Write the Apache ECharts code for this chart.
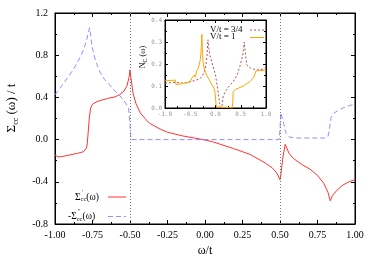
<!DOCTYPE html>
<html><head><meta charset="utf-8">
<script src="https://cdn.jsdelivr.net/npm/echarts@6/dist/echarts.min.js"></script>
<style>html,body{margin:0;padding:0;background:#fff}#c{width:374px;height:262px}</style>
</head><body><div id="c"></div>
<script>
// Main panel: real part Sigma'_cc(omega)
const reOmega = [-1.00,-0.98,-0.97,-0.95,-0.90,-0.85,-0.81,-0.79,-0.785,-0.777,-0.771,-0.762,-0.75,-0.72,-0.70,-0.65,-0.60,-0.57,-0.54,-0.52,-0.505,-0.50,-0.495,-0.48,-0.46,-0.43,-0.40,-0.37,-0.30,-0.25,-0.15,-0.03,0.05,0.19,0.30,0.40,0.45,0.48,0.50,0.505,0.52,0.535,0.545,0.56,0.59,0.65,0.70,0.75,0.79,0.82,0.835,0.85,0.88,0.92,0.96,1.00];
const reValue = [-0.145,-0.165,-0.17,-0.16,-0.145,-0.13,-0.115,-0.08,-0.04,0.10,0.21,0.30,0.335,0.36,0.37,0.39,0.405,0.425,0.46,0.51,0.60,0.66,0.60,0.44,0.34,0.25,0.20,0.155,0.10,0.07,0.035,0.005,-0.02,-0.085,-0.14,-0.22,-0.27,-0.32,-0.38,-0.34,-0.16,-0.045,-0.08,-0.13,-0.18,-0.24,-0.28,-0.34,-0.41,-0.50,-0.58,-0.53,-0.48,-0.43,-0.40,-0.38];
// Main panel: minus imaginary part -Sigma''_cc(omega)
const imOmega = [-1.00,-0.96,-0.92,-0.88,-0.84,-0.81,-0.79,-0.775,-0.77,-0.765,-0.755,-0.74,-0.72,-0.70,-0.67,-0.63,-0.60,-0.57,-0.54,-0.51,-0.50,-0.495,-0.49,0.495,0.50,0.505,0.51,0.525,0.54,0.56,0.60,0.80,0.82,0.83,0.84,0.86,0.88,0.92,0.96,1.00];
const imValue = [0.425,0.50,0.58,0.66,0.76,0.85,0.94,1.03,1.06,1.02,0.90,0.80,0.71,0.64,0.57,0.51,0.46,0.42,0.37,0.30,0.15,0.02,0.0,0.0,0.10,0.255,0.25,0.15,0.06,0.025,0.015,0.015,0.03,0.10,0.21,0.25,0.27,0.30,0.32,0.34];
// Inset: N_C(omega) for V/t = 3/4
const n34Omega = [-1.0,-0.9,-0.77,-0.64,-0.5,-0.4,-0.3,-0.25,-0.2,-0.17,-0.15,-0.13,-0.11,-0.05,0.0,0.04,0.06,0.08,0.09,0.11,0.13,0.15,0.19,0.27,0.35,0.43,0.49,0.54,0.57,0.59,0.62,0.7,0.82,0.9,1.0];
const n34Value = [0.112,0.115,0.117,0.112,0.12,0.125,0.135,0.15,0.18,0.23,0.31,0.27,0.24,0.19,0.15,0.09,0.06,0.025,0.01,0.0,0.01,0.05,0.074,0.10,0.12,0.15,0.195,0.24,0.30,0.25,0.195,0.18,0.173,0.175,0.18];
// Inset: N_C(omega) for V/t = 1
const n1Omega = [-1.0,-0.9,-0.8,-0.78,-0.75,-0.64,-0.5,-0.47,-0.44,-0.42,-0.40,-0.37,-0.34,-0.30,-0.28,-0.27,-0.255,-0.24,-0.2,-0.14,-0.07,-0.03,-0.01,0.0,0.01,0.02,0.05,0.33,0.34,0.35,0.40,0.45,0.55,0.68,0.76,0.80,0.85,0.9,1.0];
const n1Value = [0.123,0.125,0.127,0.106,0.108,0.112,0.118,0.135,0.142,0.15,0.14,0.17,0.18,0.22,0.28,0.335,0.24,0.195,0.16,0.135,0.105,0.09,0.07,0.045,0.02,0.005,0.0,0.0,0.02,0.074,0.085,0.09,0.10,0.12,0.14,0.168,0.17,0.17,0.173];
const vLines = [-0.5, 0.5];
const insetLabels = ['V/t = 3/4', 'V/t = 1'];

const zip = (a, b) => a.map((x, i) => [x, b[i]]);
const SERIF = '"Liberation Serif","DejaVu Serif",serif';
const RED = '#ff3333', BLUE = '#8f8fff', BROWN = '#b5524f', ORANGE = '#ffa500';

const chart = echarts.init(document.getElementById('c'), null, {renderer: 'canvas'});

function frameAxis(extra) {
  return Object.assign({
    type: 'value',
    axisLine: {show: true, onZero: false, lineStyle: {color: '#000', width: 1}},
    axisTick: {show: true, inside: true, length: 4, lineStyle: {color: '#000'}},
    minorTick: {show: true, splitNumber: 2, length: 2, lineStyle: {color: '#000'}},
    splitLine: {show: false},
    minorSplitLine: {show: false}
  }, extra);
}
const insetTick = {show: true, inside: true, length: 3, lineStyle: {color: '#000'}};
const insetLabel = {formatter: v => v.toFixed(1), fontFamily: '"DejaVu Sans Mono",monospace', fontSize: 6, color: '#999', margin: 3};

const legRich = {
  a: {fontFamily: SERIF, fontSize: 9.5, color: '#000', lineHeight: 12},
  b: {fontFamily: SERIF, fontSize: 6.5, color: '#000', padding: [5, 0, 0, 0]}
};
function legendText(x, y, txt, primeX, prime) {
  return [
    {type: 'text', x: x, y: y, z: 30, style: {text: txt, rich: legRich, align: 'left', verticalAlign: 'middle'}},
    {type: 'text', x: primeX, y: y - 5, z: 30, style: {text: prime, fontFamily: SERIF, fontSize: 6, fill: '#000', align: 'left', verticalAlign: 'middle'}}
  ];
}

chart.setOption({
  animation: false,
  backgroundColor: '#fff',
  grid: [
    {left: 55, right: 19, top: 13, bottom: 33, show: true, borderColor: '#000', borderWidth: 1},
    {left: 165, top: 20, width: 101, height: 88, show: true, borderColor: '#000', borderWidth: 1, backgroundColor: '#fff', z: 10}
  ],
  xAxis: [
    frameAxis({gridIndex: 0, min: -1, max: 1, interval: 0.25, position: 'bottom',
      axisLabel: {formatter: v => v.toFixed(2), fontFamily: SERIF, fontSize: 10, color: '#000', margin: 6},
      name: 'ω/t', nameLocation: 'middle', nameGap: 21, nameTextStyle: {fontFamily: SERIF, fontSize: 12, color: '#000'}}),
    frameAxis({gridIndex: 0, min: -1, max: 1, interval: 0.25, position: 'top', axisLabel: {show: false}}),
    frameAxis({gridIndex: 1, min: -1, max: 1, interval: 0.5, position: 'bottom', z: 11, axisLabel: insetLabel, axisTick: insetTick}),
    frameAxis({gridIndex: 1, min: -1, max: 1, interval: 0.5, position: 'top', axisLabel: {show: false}, z: 11, axisTick: insetTick})
  ],
  yAxis: [
    frameAxis({gridIndex: 0, min: -0.8, max: 1.2, interval: 0.4, position: 'left',
      axisLabel: {formatter: v => v.toFixed(1), fontFamily: SERIF, fontSize: 10, color: '#000', margin: 7}}),
    frameAxis({gridIndex: 0, min: -0.8, max: 1.2, interval: 0.4, position: 'right', axisLabel: {show: false}}),
    frameAxis({gridIndex: 1, min: 0, max: 0.4, interval: 0.1, position: 'left', z: 11, axisLabel: insetLabel, axisTick: insetTick}),
    frameAxis({gridIndex: 1, min: 0, max: 0.4, interval: 0.1, position: 'right', axisLabel: {show: false}, z: 11, axisTick: insetTick})
  ],
  graphic: [
    {type: 'text', x: 12, y: 108, rotation: Math.PI / 2,
      style: {text: '{a|Σ}{b|cc}{a| (ω) / t}', rich: {
        a: {fontFamily: SERIF, fontSize: 13, color: '#000', lineHeight: 16},
        b: {fontFamily: SERIF, fontSize: 8, color: '#000', padding: [7, 0, 0, 0]}
      }, align: 'center', verticalAlign: 'middle'}},
    {type: 'text', x: 143, y: 57, rotation: Math.PI / 2, z: 20,
      style: {text: '{a|N}{b|C}{a| (ω)}', rich: {
        a: {fontFamily: SERIF, fontSize: 8, color: '#555', lineHeight: 10},
        b: {fontFamily: SERIF, fontSize: 6, color: '#555', padding: [4, 0, 0, 0]}
      }, align: 'center', verticalAlign: 'middle'}},
    // main legend
    ...legendText(75, 197, '{a|Σ}{b|cc}{a|(ω)}', 82, '′'),
    {type: 'line', z: 30, shape: {x1: 108, y1: 197, x2: 126, y2: 197}, style: {stroke: RED, lineWidth: 1}},
    ...legendText(68, 216.5, '{a|-Σ}{b|cc}{a|(ω)}', 78, '″'),
    {type: 'line', z: 30, shape: {x1: 108, y1: 216.5, x2: 126, y2: 216.5}, style: {stroke: BLUE, lineWidth: 1, lineDash: [5, 3]}},
    // inset legend
    {type: 'text', x: 210, y: 30, z: 30, style: {text: insetLabels[0], fontFamily: SERIF, fontSize: 9, fill: '#000', align: 'left', verticalAlign: 'middle'}},
    {type: 'line', z: 30, shape: {x1: 250, y1: 30, x2: 264, y2: 30}, style: {stroke: BROWN, lineWidth: 1, lineDash: [2, 2]}},
    {type: 'text', x: 210, y: 37, z: 30, style: {text: insetLabels[1], fontFamily: SERIF, fontSize: 9, fill: '#000', align: 'left', verticalAlign: 'middle'}},
    {type: 'line', z: 30, shape: {x1: 250, y1: 37.5, x2: 264, y2: 37.5}, style: {stroke: ORANGE, lineWidth: 1}}
  ],
  series: [
    {name: 're', type: 'line', xAxisIndex: 0, yAxisIndex: 0, showSymbol: false, symbol: 'none',
      data: zip(reOmega, reValue), lineStyle: {color: RED, width: 1}, itemStyle: {color: RED},
      markLine: {silent: true, symbol: 'none', label: {show: false},
        lineStyle: {color: '#777', type: [1, 2], width: 1},
        data: vLines.map(v => ({xAxis: v}))}},
    {name: 'im', type: 'line', xAxisIndex: 0, yAxisIndex: 0, showSymbol: false, symbol: 'none',
      data: zip(imOmega, imValue), lineStyle: {color: BLUE, width: 1, type: [5, 3]}, itemStyle: {color: BLUE}},
    {name: insetLabels[0], type: 'line', xAxisIndex: 2, yAxisIndex: 2, showSymbol: false, symbol: 'none', z: 12,
      data: zip(n34Omega, n34Value), lineStyle: {color: BROWN, width: 1, type: [2, 2]}, itemStyle: {color: BROWN}},
    {name: insetLabels[1], type: 'line', xAxisIndex: 2, yAxisIndex: 2, showSymbol: false, symbol: 'none', z: 12,
      data: zip(n1Omega, n1Value), lineStyle: {color: ORANGE, width: 1}, itemStyle: {color: ORANGE}}
  ]
});
</script>
</body></html>
